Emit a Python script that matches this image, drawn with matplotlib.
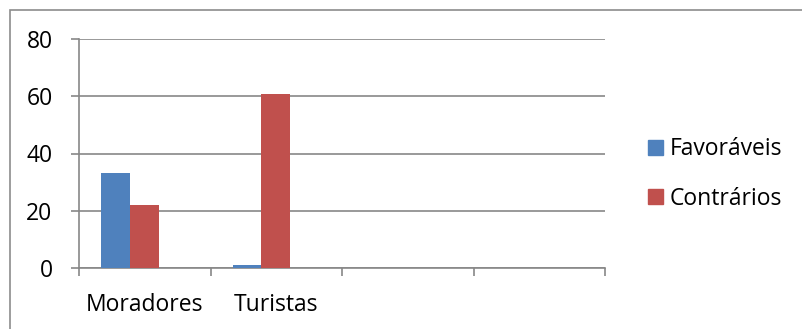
import matplotlib.pyplot as plt
import matplotlib.patches as mpatches
import numpy as np

categories = ["Moradores", "Turistas", "", ""]
favoraveis = [33, 1]
contrarios = [22, 61]
series_names = ["Favoráveis", "Contrários"]
colors = ["#4F81BD", "#C0504D"]
yticks = [0, 20, 40, 60, 80]

plt.rcParams["font.family"] = ["Open Sans", "DejaVu Sans"]
W, H = 803, 329
fig = plt.figure(figsize=(W / 100, H / 100), dpi=100)
ax = fig.add_axes([79 / W, 1 - 267.7 / H, (605.3 - 79) / W, (267.7 - 39.3) / H])

grid_c = "#878787"
fs = 16.5
bar_w = 0.22
# the bar pair sits a little left of the category centre, as in the original
x = np.arange(len(favoraveis)) + 0.387
ax.bar(x - bar_w / 2, favoraveis, bar_w, color=colors[0], label=series_names[0], zorder=3)
ax.bar(x + bar_w / 2, contrarios, bar_w, color=colors[1], label=series_names[1], zorder=3)

ax.set_xlim(0, len(categories))
ax.set_ylim(0, 80)
ax.set_yticks(yticks)
ax.yaxis.grid(True, color=grid_c, linewidth=1.2, zorder=0)
ax.set_xticks(np.arange(len(categories) + 1))
ax.set_xticklabels([])
ax.set_xticks(np.arange(len(categories)) + 0.5, minor=True)
ax.set_xticklabels(categories, minor=True)
ax.tick_params(axis="x", which="minor", length=0, pad=18, labelsize=fs)
ax.tick_params(axis="x", which="major", length=6, width=1.2, color=grid_c, direction="out")
ax.tick_params(axis="y", length=6, width=1.2, color=grid_c, direction="out", pad=13, labelsize=fs)

for s in ["top", "right"]:
    ax.spines[s].set_visible(False)
for s in ["left", "bottom"]:
    ax.spines[s].set_color(grid_c)
    ax.spines[s].set_linewidth(1.2)

handles = [mpatches.Patch(color=c) for c in colors]
fig.legend(handles, series_names, loc="center left",
           bbox_to_anchor=(627 / W, 1 - 174 / H), frameon=False,
           fontsize=fs, handlelength=0.65, handleheight=0.65,
           handletextpad=0.3, labelspacing=1.1)

fig.add_artist(mpatches.Rectangle((10 / W, -0.1), 1.2, 1 - 10 / H + 0.1,
                                  transform=fig.transFigure, fill=False,
                                  edgecolor="#8c8c8c", linewidth=1.2))

fig.savefig("out.png", dpi=100)
